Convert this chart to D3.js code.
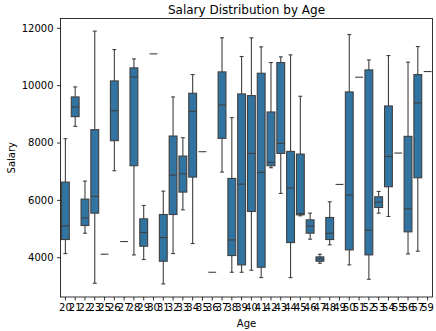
<!DOCTYPE html>
<html>
<head>
<meta charset="utf-8">
<script src="https://d3js.org/d3.v7.min.js"></script>
<style>
  body { margin: 0; background: #fff; }
  text { font-family: "DejaVu Sans", sans-serif; fill: #000; }
</style>
</head>
<body>
<svg id="chart"></svg>
<script>
  var width = 436, height = 331;
  var margin = {left: 60.5, right: 3.5, top: 18.5, bottom: 34};

  // box statistics, one entry per age
  var ages = [20,21,22,23,25,26,27,28,29,30,31,32,33,34,35,36,37,38,39,40,41,42,43,44,45,46,47,48,49,50,51,52,53,54,55,56,57,59];
  var whiskerLow  = [4128,8565,4838,3092,4105,7016,4547,4081,3918,11092,3068,4128,5653,4477,7680,3476,6969,3476,3476,3546,3290,7121,6224,3290,5444,4629,3790,4431,6539,3732,10277,3231,5537,5421,7633,4116,4210,10475];
  var q1          = [4617,8903,5106,5537,4105,8064,4547,7191,4384,11092,3860,5490,6271,6795,7680,3476,8146,4058,3732,5595,3651,7191,7621,4512,5479,4838,3860,4617,6539,4256,10277,4081,5735,6457,7633,4885,6771,10475];
  var median      = [5095,9240,5374,6119,4105,9112,4547,10288,4862,11092,4687,6865,6911,9089,7680,3476,9310,4604,6550,7621,6958,7307,7971,6410,5525,5083,3942,4838,6539,6166,10277,4943,5921,7517,7633,5688,9380,10475];
  var q3          = [6620,9590,6026,8448,4105,10148,4547,10603,5339,11092,5490,8227,7528,9718,7680,3476,10463,6748,9694,9636,10416,9065,10789,7691,7598,5304,4012,5386,6539,9764,10277,10533,6108,9275,7633,8215,10370,10475];
  var whiskerHigh = [8134,9939,6655,11884,4105,11243,4547,10917,5805,11092,6306,9590,8169,10370,7680,3476,11651,8868,11000,11651,11336,10789,10987,11057,9613,5537,4105,5933,6539,11767,10277,10882,6294,11033,7633,10801,11348,10475];
  var yTicks = [4000, 6000, 8000, 10000, 12000];

  var boxFill = "#3274a1";
  var lineColor = "#3f3f3f";

  var svg = d3.select("#chart").attr("width", width).attr("height", height);

  var x = d3.scaleBand()
    .domain(ages)
    .range([margin.left, width - margin.right])
    .padding(0);

  var y = d3.scaleLinear()
    .domain([2613, 12325])
    .range([height - margin.bottom, margin.top]);

  var boxW = x.bandwidth() * 0.8;
  var capW = boxW * 0.5;

  var boxes = ages.map(function(a, i) {
    return {age: a, lo: whiskerLow[i], q1: q1[i], med: median[i], q3: q3[i], hi: whiskerHigh[i]};
  });

  var g = svg.append("g");

  var groups = g.selectAll("g.box")
    .data(boxes)
    .enter().append("g")
    .attr("class", "box");

  // whiskers
  groups.append("line")
    .attr("x1", function(d) { return x(d.age) + x.bandwidth() / 2; })
    .attr("x2", function(d) { return x(d.age) + x.bandwidth() / 2; })
    .attr("y1", function(d) { return y(d.hi); })
    .attr("y2", function(d) { return y(d.q3); })
    .attr("stroke", lineColor).attr("stroke-width", 1.1);
  groups.append("line")
    .attr("x1", function(d) { return x(d.age) + x.bandwidth() / 2; })
    .attr("x2", function(d) { return x(d.age) + x.bandwidth() / 2; })
    .attr("y1", function(d) { return y(d.q1); })
    .attr("y2", function(d) { return y(d.lo); })
    .attr("stroke", lineColor).attr("stroke-width", 1.1);

  // caps
  ["hi", "lo"].forEach(function(k) {
    groups.filter(function(d) { return d.hi !== d.lo; })
      .append("line")
      .attr("x1", function(d) { return x(d.age) + x.bandwidth() / 2 - capW / 2; })
      .attr("x2", function(d) { return x(d.age) + x.bandwidth() / 2 + capW / 2; })
      .attr("y1", function(d) { return y(d[k]); })
      .attr("y2", function(d) { return y(d[k]); })
      .attr("stroke", lineColor).attr("stroke-width", 1.1);
  });

  // boxes
  groups.append("rect")
    .attr("x", function(d) { return x(d.age) + (x.bandwidth() - boxW) / 2; })
    .attr("y", function(d) { return y(d.q3); })
    .attr("width", boxW)
    .attr("height", function(d) { return y(d.q1) - y(d.q3); })
    .attr("fill", boxFill)
    .attr("stroke", lineColor).attr("stroke-width", 1.1);

  // medians (also the whole mark when an age has one salary)
  groups.append("line")
    .attr("x1", function(d) { return x(d.age) + (x.bandwidth() - boxW) / 2; })
    .attr("x2", function(d) { return x(d.age) + (x.bandwidth() + boxW) / 2; })
    .attr("y1", function(d) { return y(d.med); })
    .attr("y2", function(d) { return y(d.med); })
    .attr("stroke", lineColor).attr("stroke-width", 1.1);

  // axes
  var xAxis = svg.append("g")
    .attr("transform", "translate(0," + (height - margin.bottom) + ")")
    .call(d3.axisBottom(x).tickSizeOuter(0).tickSize(3.5).tickPadding(3.5));
  var yAxis = svg.append("g")
    .attr("transform", "translate(" + margin.left + ",0)")
    .call(d3.axisLeft(y).tickValues(yTicks).tickFormat(d3.format("d"))
      .tickSizeOuter(0).tickSize(3.5).tickPadding(3.5));

  [xAxis, yAxis].forEach(function(ax) {
    ax.select(".domain").remove();
    ax.selectAll("line").attr("stroke", "#000").attr("stroke-width", 0.8);
    ax.selectAll("text").attr("font-size", "10px").attr("font-family", "DejaVu Sans").attr("fill", "#000");
  });

  // frame
  svg.append("rect")
    .attr("x", margin.left).attr("y", margin.top)
    .attr("width", width - margin.left - margin.right)
    .attr("height", height - margin.top - margin.bottom)
    .attr("fill", "none").attr("stroke", "#000").attr("stroke-width", 0.8);

  // titles
  var cx = (margin.left + width - margin.right) / 2;
  svg.append("text")
    .attr("x", cx).attr("y", 13.5)
    .attr("text-anchor", "middle")
    .attr("font-size", "12px")
    .text("Salary Distribution by Age");
  svg.append("text")
    .attr("x", cx).attr("y", 327)
    .attr("text-anchor", "middle")
    .attr("font-size", "10px")
    .text("Age");
  svg.append("text")
    .attr("transform", "translate(15," + ((margin.top + height - margin.bottom) / 2) + ") rotate(-90)")
    .attr("text-anchor", "middle")
    .attr("font-size", "10px")
    .text("Salary");
</script>
</body>
</html>
